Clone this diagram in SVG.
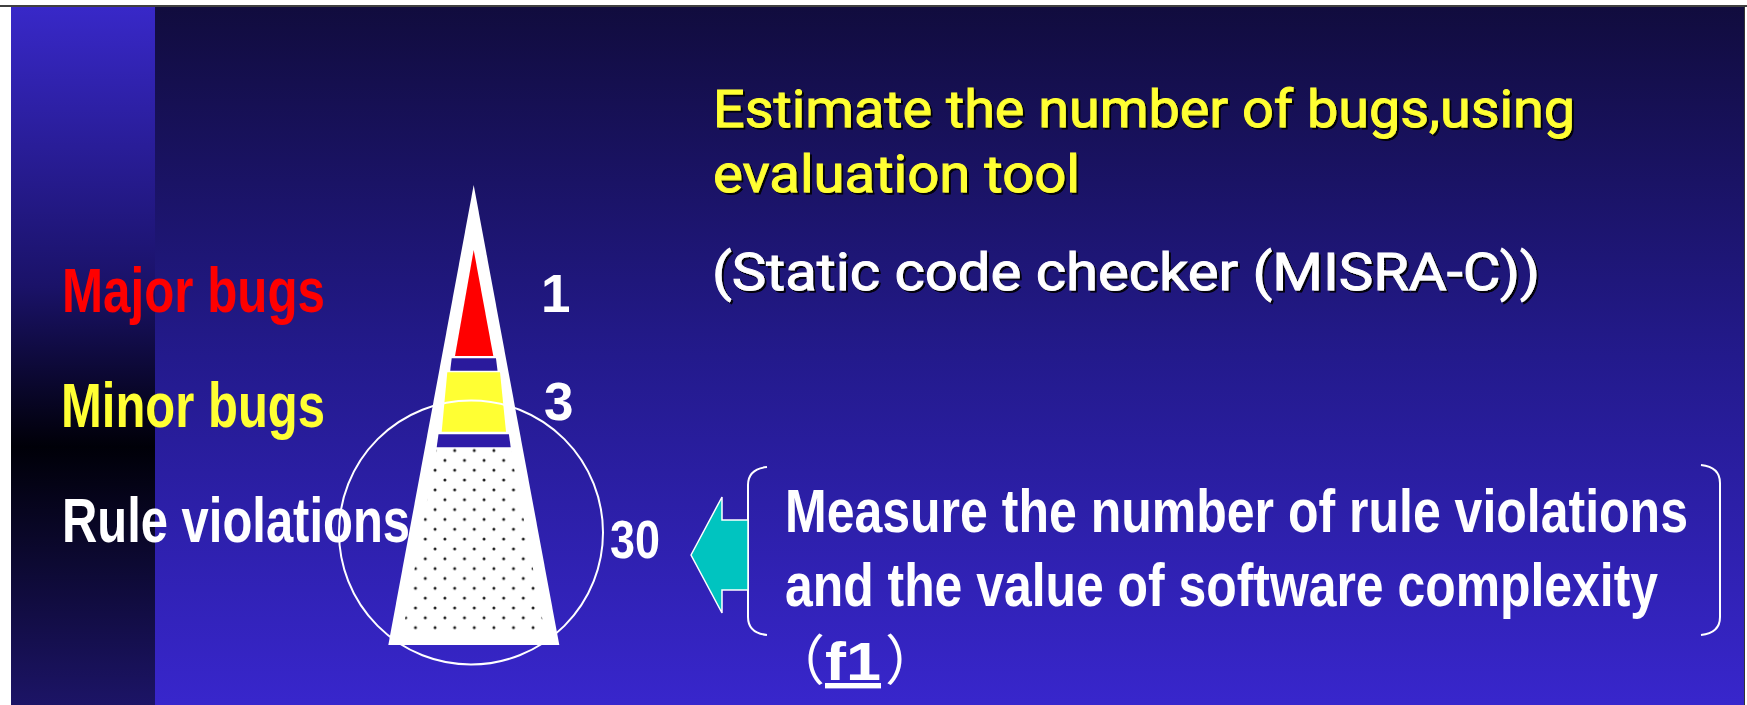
<svg xmlns="http://www.w3.org/2000/svg" width="1747" height="705" viewBox="0 0 1747 705">
  <defs>
    <linearGradient id="bgMain" x1="0" y1="7" x2="0" y2="705" gradientUnits="userSpaceOnUse">
      <stop offset="0" stop-color="#110c3e"/>
      <stop offset="0.5" stop-color="#231a8c"/>
      <stop offset="1" stop-color="#3826cc"/>
    </linearGradient>
    <linearGradient id="bgSide" x1="0" y1="7" x2="0" y2="705" gradientUnits="userSpaceOnUse">
      <stop offset="0" stop-color="#3828c8"/>
      <stop offset="0.4" stop-color="#1a1268"/>
      <stop offset="0.63" stop-color="#000008"/>
      <stop offset="1" stop-color="#1c1466"/>
    </linearGradient>
    <pattern id="dots" patternUnits="userSpaceOnUse" x="469.4" y="445.58" width="19.6" height="19.68">
      <circle cx="4.9" cy="4.92" r="1.5" fill="#1a1a1a"/>
      <circle cx="14.7" cy="14.76" r="1.5" fill="#1a1a1a"/>
    </pattern>
    <clipPath id="dotClip">
      <polygon points="436.9,448 510.5,448 545.1,634 402.3,634"/>
    </clipPath>
    <filter id="shadow" x="-5%" y="-20%" width="110%" height="150%">
      <feDropShadow dx="2" dy="2" stdDeviation="0.6" flood-color="#000" flood-opacity="0.9"/>
    </filter>
    <style>
      .lbl { font-family: "Liberation Sans", Arial, sans-serif; font-weight: bold; font-size: 63px; }
      .num { font-family: "Liberation Sans", Arial, sans-serif; font-weight: bold; font-size: 53px; fill: #ffffff; }
      .jp { font-family: Roboto, "Noto Sans", sans-serif; font-size: 51px; stroke-width: 0.9; filter: url(#shadow); }
      .meas { font-family: "Liberation Sans", Arial, sans-serif; font-weight: bold; font-size: 62px; fill: #ffffff; }
      .brk { fill: none; stroke: #ffffff; stroke-width: 2; }
    </style>
  </defs>

  <!-- page / slide background -->
  <rect x="0" y="0" width="1747" height="705" fill="#ffffff"/>
  <rect x="11" y="7" width="1733" height="698" fill="url(#bgMain)"/>
  <rect x="11" y="7" width="144" height="698" fill="url(#bgSide)"/>
  <line x1="0" y1="6" x2="1747" y2="6" stroke="#000" stroke-width="1.5"/>
  <line x1="1744.5" y1="6" x2="1744.5" y2="705" stroke="#333" stroke-width="1"/>

  <!-- pyramid -->
  <g id="pyramid">
    <polygon points="473.7,185 559.3,645 388.3,645" fill="#ffffff"/>
    <polygon points="473.7,250 493.3,356 455,356" fill="#ff0000"/>
    <polygon points="451.7,358.3 496,358.3 497.5,370.7 450.2,370.7" fill="#2a1a9c"/>
    <polygon points="447.3,372.3 500,372.3 506,431.7 441.7,431.7" fill="#ffff33"/>
    <polygon points="438.5,434.3 508.9,434.3 510.7,447.3 436.7,447.3" fill="#2e1ca8"/>
    <rect x="400" y="448" width="150" height="186" fill="url(#dots)" clip-path="url(#dotClip)"/>
  </g>

  <!-- labels -->
  <g id="label-major">
    <text class="lbl" x="62" y="312" fill="#ff0000" textLength="263" lengthAdjust="spacingAndGlyphs">Major bugs</text>
  </g>
  <g id="label-minor">
    <text class="lbl" x="61" y="427" fill="#ffff33" textLength="264" lengthAdjust="spacingAndGlyphs">Minor bugs</text>
  </g>
  <g id="label-rule">
    <text class="lbl" x="62" y="542" fill="#ffffff" textLength="348" lengthAdjust="spacingAndGlyphs">Rule violations</text>
  </g>

  <!-- numbers -->
  <g id="num-1"><text class="num" x="541" y="312">1</text></g>
  <g id="num-3"><text class="num" x="544" y="420">3</text></g>
  <g id="num-30"><text class="num" x="610" y="558" textLength="50" lengthAdjust="spacingAndGlyphs">30</text></g>

  <!-- circle of rule violations -->
  <g id="circle">
    <circle cx="471" cy="532.5" r="132" fill="none" stroke="#ffffff" stroke-width="2"/>
  </g>

  <!-- top text -->
  <g id="estimate">
    <text class="jp" x="713" y="127" fill="#ffff33" stroke="#ffff33" textLength="862" lengthAdjust="spacingAndGlyphs">Estimate the number of bugs,using</text>
    <text class="jp" x="713" y="192" fill="#ffff33" stroke="#ffff33" textLength="367" lengthAdjust="spacingAndGlyphs">evaluation tool</text>
    <text class="jp" x="712" y="290" fill="#ffffff" stroke="#ffffff" textLength="828" lengthAdjust="spacingAndGlyphs">(Static code checker (MISRA-C))</text>
  </g>

  <!-- measure box -->
  <g id="measure">
    <path class="brk" d="M767,467 Q748,469 748,485 L748,617 Q748,633 767,635"/>
    <path class="brk" d="M1701,465 Q1720,467 1720,483 L1720,617 Q1720,633 1701,635"/>
    <text class="meas" transform="translate(785,0) scale(0.805,1)" x="0" y="532" textLength="1121.7" lengthAdjust="spacingAndGlyphs">Measure the number of rule violations</text>
    <text class="meas" transform="translate(785,0) scale(0.805,1)" x="0" y="606" textLength="1084.5" lengthAdjust="spacingAndGlyphs">and the value of software complexity</text>
    <text y="680" fill="#ffffff" font-size="54" font-family="Liberation Sans, sans-serif"><tspan x="771" font-family="Noto Sans CJK JP, sans-serif" font-weight="normal">（</tspan><tspan x="825" font-weight="bold" text-decoration="underline" textLength="56" lengthAdjust="spacingAndGlyphs">f1</tspan><tspan x="885" font-family="Noto Sans CJK JP, sans-serif" font-weight="normal">）</tspan></text>
  </g>

  <!-- connector arrow -->
  <g id="connectors">
    <polygon points="691,555 722,497 722,520 748,520 748,590 722,590 722,613" fill="#00c4c0" stroke="#ffffff" stroke-width="1.5" stroke-linejoin="miter"/>
  </g>
</svg>
